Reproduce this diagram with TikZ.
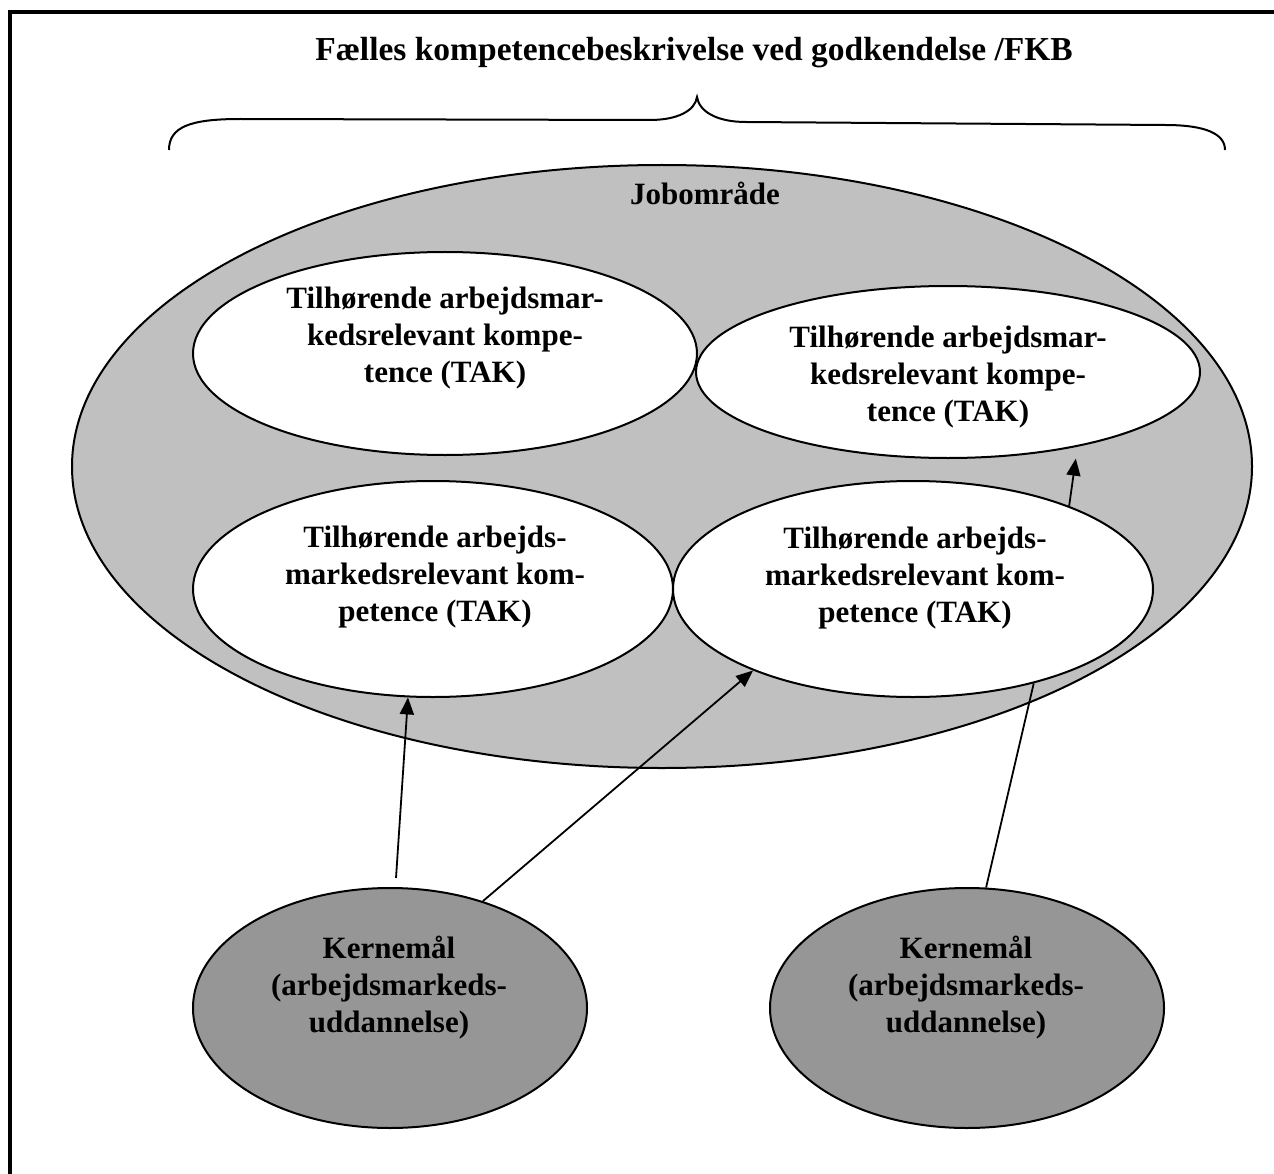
\documentclass[tikz,border=0pt]{standalone}
\usepackage{fontspec}
\setmainfont{Liberation Serif}
\usetikzlibrary{shapes.geometric,arrows.meta}
\definecolor{jobgray}{HTML}{C0C0C0}
\definecolor{kerngray}{HTML}{969696}
\begin{document}
\begin{tikzpicture}[x=1pt,y=-1pt,
  oval/.style={ellipse,draw=black,line width=2pt,inner sep=0pt},
  lbl/.style={font=\fontsize{31}{37}\selectfont\bfseries,align=center,inner sep=0pt},
  conn/.style={line width=1.8pt},
  arr/.style={conn,-{Triangle[length=17pt,width=14pt]}}]
\useasboundingbox (0,0) rectangle (1274,1174);
\fill[white] (0,0) rectangle (1274,1174);
% frame
\draw[line width=3.5pt] (10,1174) -- (10,12) -- (1274,12);
% title and brace
\node[lbl,font=\fontsize{33.5}{37}\selectfont\bfseries] (title) at (694,53) {Fælles kompetencebeskrivelse ved godkendelse /FKB};
\draw[line width=2pt] (169,150) .. controls (169,127) and (190,119) .. (240,119) -- (650,120)
  .. controls (677,120) and (695,111) .. (697,97)
  .. controls (699,111) and (716,122) .. (746,122) -- (1165,125)
  .. controls (1206,125) and (1225,134) .. (1225,150);
% ellipses
\node[oval,fill=jobgray,minimum width=1180,minimum height=603] (job) at (662,466.5) {};
\node[lbl] (jobtxt) at (705,193) {Jobområde};
\node[oval,fill=white,minimum width=504,minimum height=203] (TL) at (445,353.5) {};
\node[oval,fill=white,minimum width=504,minimum height=172] (TR) at (948,372) {};
\node[oval,fill=white,minimum width=480,minimum height=216] (BL) at (433,589) {};
\node[oval,fill=white,minimum width=480,minimum height=216] (BR) at (913,589) {};
\node[oval,fill=kerngray,minimum width=394,minimum height=240] (LK) at (390,1008) {};
\node[oval,fill=kerngray,minimum width=394,minimum height=240] (RK) at (967,1008) {};
% texts
\node[lbl] (TLtxt) at (445,338) {Tilhørende arbejdsmar-\\kedsrelevant kompe-\\tence (TAK)};
\node[lbl] (TRtxt) at (948,377) {Tilhørende arbejdsmar-\\kedsrelevant kompe-\\tence (TAK)};
\node[lbl] (BLtxt) at (435,577) {Tilhørende arbejds-\\markedsrelevant kom-\\petence (TAK)};
\node[lbl] (BRtxt) at (915,578) {Tilhørende arbejds-\\markedsrelevant kom-\\petence (TAK)};
\node[lbl] (LKtxt) at (389,988) {Kernemål\\(arbejdsmarkeds-\\uddannelse)};
\node[lbl] (RKtxt) at (966,988) {Kernemål\\(arbejdsmarkeds-\\uddannelse)};
% connectors
\coordinate (a1s) at (396,878);
\draw[arr] (a1s) -- (BL.-103);
\draw[arr] (LK.49) -- (BR.207);
\draw[conn] (RK.81) -- (BR.-38.5);
\draw[arr,shorten >=12pt] (BR.28) -- (TR.-30);
\end{tikzpicture}
\end{document}
